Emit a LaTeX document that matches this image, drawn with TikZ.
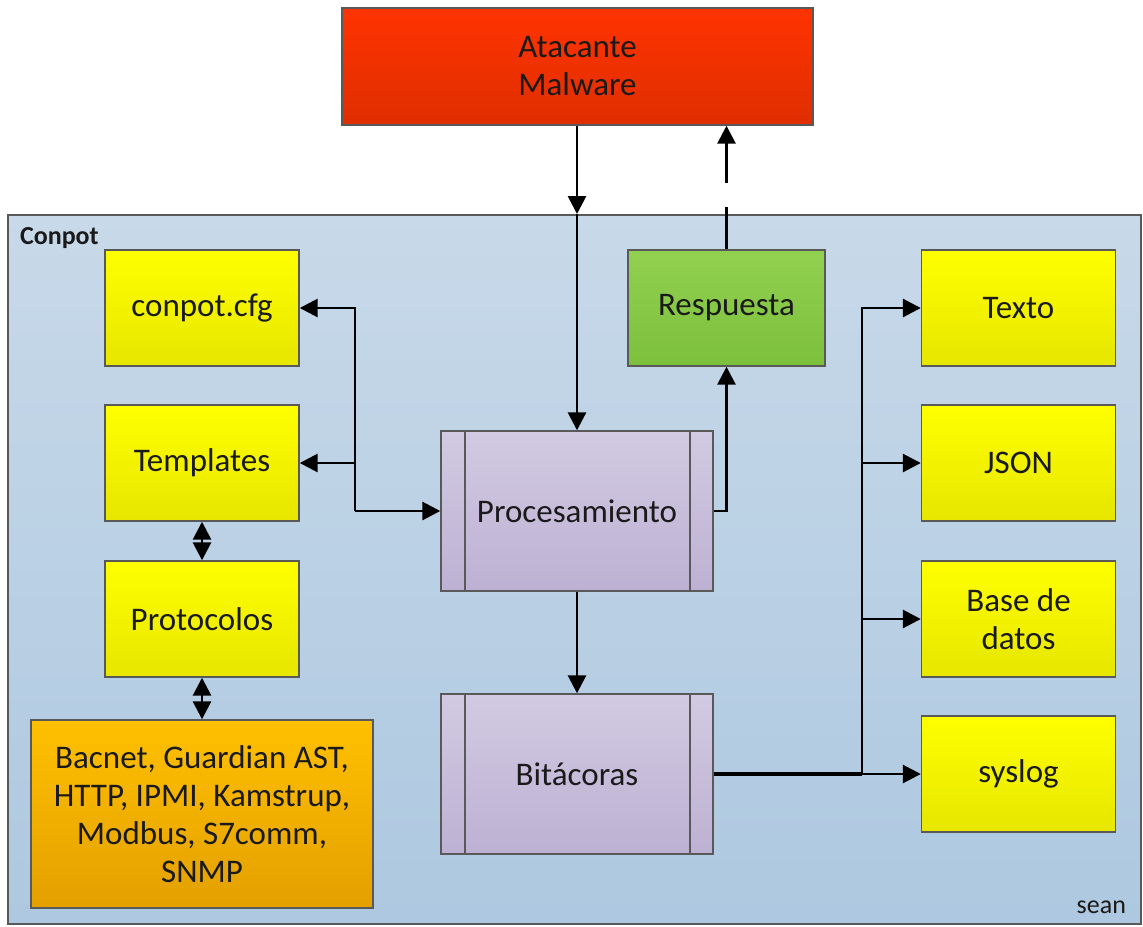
\documentclass[tikz,border=0pt]{standalone}
\usepackage{fontspec}
\setmainfont{Carlito}
\usepackage{xcolor}
\usetikzlibrary{arrows.meta,positioning,calc}

\definecolor{boxline}{HTML}{595959}
\definecolor{txt}{HTML}{1A1A1A}
\definecolor{panelTop}{HTML}{C8D9E9}
\definecolor{panelBot}{HTML}{ADC8E0}
\definecolor{yelTop}{HTML}{FFFF00}
\definecolor{yelBot}{HTML}{E6E600}
\definecolor{redTop}{HTML}{FF3300}
\definecolor{redBot}{HTML}{DF2E00}
\definecolor{grnTop}{HTML}{92D050}
\definecolor{grnBot}{HTML}{7CC03C}
\definecolor{purTop}{HTML}{D2CAE2}
\definecolor{purBot}{HTML}{BDB1D3}
\definecolor{oraTop}{HTML}{FFC000}
\definecolor{oraBot}{HTML}{E3A000}

\tikzset{
  box/.style={draw=boxline, line width=0.7pt, minimum width=97pt, minimum height=58pt,
    inner sep=2pt, align=center, text=txt, font=\fontsize{16.5pt}{19pt}\selectfont},
  ybox/.style={box, top color=yelTop, bottom color=yelBot},
  procbox/.style={box, minimum width=136pt, minimum height=80pt, top color=purTop, bottom color=purBot,
    path picture={
      \draw[boxline, line width=0.7pt] ([xshift=12pt]path picture bounding box.north west) -- ([xshift=12pt]path picture bounding box.south west);
      \draw[boxline, line width=0.7pt] ([xshift=-11.5pt]path picture bounding box.north east) -- ([xshift=-11.5pt]path picture bounding box.south east);
    }},
  tip/.style={-{Triangle[width=9pt,length=9pt]}, line width=1.4pt, black},
  dtip/.style={{Triangle[width=9pt,length=9pt]}-{Triangle[width=9pt,length=9pt]}, line width=1.4pt, black},
  plain/.style={line width=1.4pt, black},
}

\begin{document}
\begin{tikzpicture}[x=0.5pt, y=-0.5pt]
\useasboundingbox (0,0) rectangle (1143,926);

% container
\shade[top color=panelTop, bottom color=panelBot, draw=boxline, line width=0.6pt] (8,215) rectangle (1141,924);
\node[anchor=west, font=\fontsize{13pt}{15pt}\selectfont\bfseries, text=txt] (conpot) at (13,238) {Conpot};
\node[anchor=east, font=\fontsize{13pt}{15pt}\selectfont, text=txt] (sean) at (1133,907) {sean};

% attacker
\node[box, minimum width=235.5pt, minimum height=58.5pt, top color=redTop, bottom color=redBot] (att) at (577.5,66.5) {Atacante\\Malware};

% left column
\node[ybox] (cfg) at (202,308) {conpot.cfg};
\node[ybox] (tmpl) at (202,463) {Templates};
\node[ybox] (prot) at (202,619) {Protocolos};
\node[box, minimum width=171pt, minimum height=94pt, top color=oraTop, bottom color=oraBot] (bac) at (202,814)
  {Bacnet, Guardian AST,\\HTTP, IPMI, Kamstrup,\\Modbus, S7comm,\\SNMP};

% middle
\node[box, top color=grnTop, bottom color=grnBot, minimum width=98.5pt] (resp) at (726.5,308) {Respuesta};
\node[procbox] (proc) at (577,511) {Procesamiento};
\node[procbox] (bit) at (577,774) {Bitácoras};

% right column
\node[ybox] (texto) at (1018.5,308) {Texto};
\node[ybox] (json) at (1018.5,463) {JSON};
\node[ybox] (base) at (1018.5,619) {Base de\\datos};
\node[ybox] (syslog) at (1018.5,774) {syslog};

% connectors
\coordinate (entry) at (577,214);
\coordinate (gapLo) at (727,207);
\coordinate (gapHi) at (727,183);
\coordinate (busL) at (355,511);
\coordinate (busR) at (862,774);

\draw[tip] (att.south -| entry) -- (entry);
\draw[tip] (entry) -- (proc.north);
\draw[plain] (resp.north) -- (resp.north |- gapLo);
\draw[tip] (resp.north |- gapHi) -- (resp.north |- att.south);
\draw[tip] (proc.east) -| (resp.south);
\draw[tip] (proc.south) -- (bit.north);

\draw[tip] (busL) |- (cfg.east);
\draw[tip] (busL |- tmpl.east) -- (tmpl.east);
\draw[tip] (busL) -- (proc.west);
\draw[dtip] (tmpl.south) -- (prot.north);
\draw[dtip] (prot.south) -- (bac.north);

\draw[line width=2.2pt] (bit.east) -- (busR);
\draw[tip] (busR) -- (syslog.west);
\draw[tip] (busR) |- (texto.west);
\draw[tip] (busR |- json.west) -- (json.west);
\draw[tip] (busR |- base.west) -- (base.west);
\end{tikzpicture}
\end{document}
